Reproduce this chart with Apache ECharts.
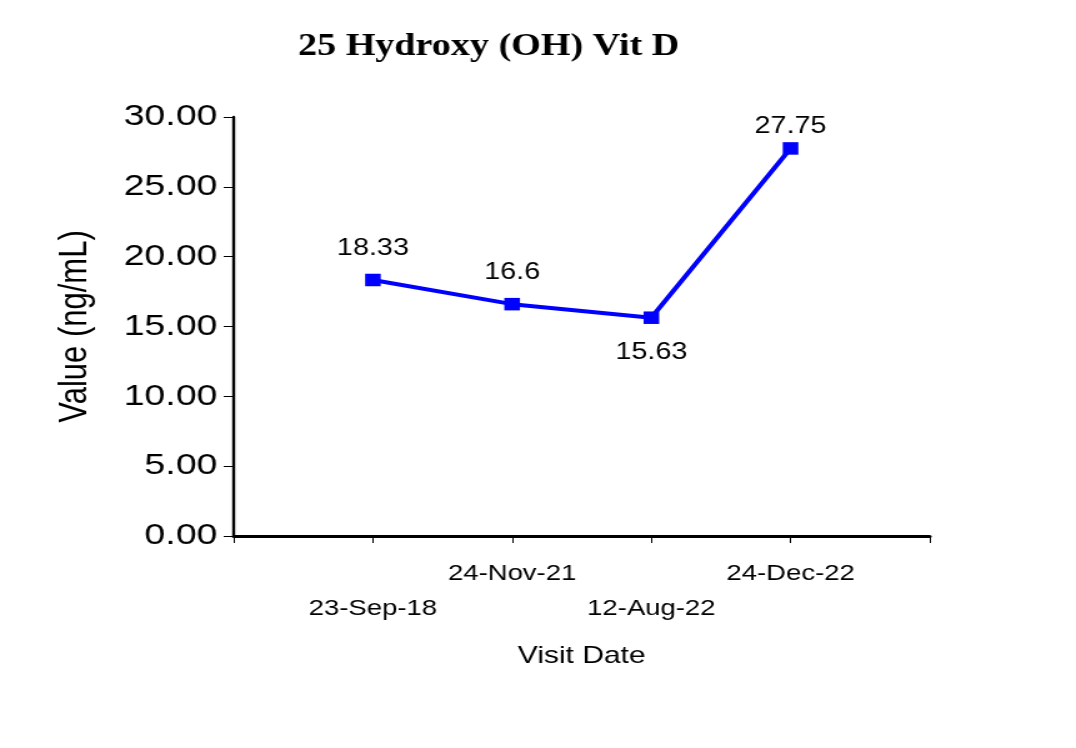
<!DOCTYPE html>
<html>
<head>
<meta charset="utf-8">
<script src="https://cdn.jsdelivr.net/npm/echarts@6/dist/echarts.min.js"></script>
<style>
  html, body { margin: 0; padding: 0; background: #fff; overflow: hidden; }
  /* the reference is stretched sideways, so draw narrower and widen */
  #chart { width: 861px; height: 748px; transform: scaleX(1.2497); transform-origin: 0 0; }
</style>
</head>
<body>
<div id="chart"></div>
<script>
// padded with blank slots so the dates sit between the axis ends
const visitDates = ['', '23-Sep-18', '24-Nov-21', '12-Aug-22', '24-Dec-22', ''];
const vitDValues = [null, 18.33, 16.6, 15.63, 27.75, null];
const valueLabels = ['', '18.33', '16.6', '15.63', '27.75', ''];
const labelBelow = [false, false, false, true, false, false];

const chart = echarts.init(document.getElementById('chart'));

const seriesData = vitDValues.map((v, i) => {
  if (v == null) return null;
  const item = { value: v, label: { formatter: valueLabels[i] } };
  if (labelBelow[i]) { item.label.position = 'bottom'; item.label.distance = 17; }
  if (v > 25) item.label.distance = 4;
  return item;
});

chart.setOption({
  animation: false,
  title: {
    text: '25 Hydroxy (OH) Vit D',
    left: 386,
    top: 27,
    textAlign: 'center',
    textStyle: { fontFamily: 'Liberation Serif', fontWeight: 'bold', fontSize: 30.5, color: '#000' }
  },
  grid: { left: 187, right: 117, top: 117, bottom: 212 },
  xAxis: {
    type: 'category',
    data: visitDates,
    boundaryGap: false,
    name: 'Visit Date',
    nameLocation: 'middle',
    nameGap: 108,
    nameTextStyle: { fontFamily: 'Liberation Sans', fontSize: 24, color: '#000' },
    axisLine: { lineStyle: { color: '#000', width: 3 } },
    axisTick: { length: 7, lineStyle: { color: '#000', width: 1 }, alignWithLabel: true },
    axisLabel: {
      interval: 0,
      margin: 20,
      fontFamily: 'Liberation Sans',
      fontSize: 22,
      color: '#000',
      lineHeight: 35,
      formatter: (v, i) => (i % 2 === 1 ? '\n' + v : v)
    },
    splitLine: { show: false }
  },
  yAxis: {
    type: 'value',
    min: 0,
    max: 30,
    interval: 5,
    name: 'Value (ng/mL)',
    nameLocation: 'middle',
    nameGap: 111,
    nameTextStyle: { fontFamily: 'Liberation Sans', fontSize: 31, color: '#000' },
    axisLine: { show: true, lineStyle: { color: '#000', width: 2.4 } },
    axisTick: { show: true, length: 8, lineStyle: { color: '#000', width: 1 } },
    axisLabel: {
      margin: 13,
      fontFamily: 'Liberation Sans',
      fontSize: 30,
      color: '#000',
      formatter: v => v.toFixed(2)
    },
    splitLine: { show: false }
  },
  series: [{
    type: 'line',
    data: seriesData,
    connectNulls: false,
    symbol: 'rect',
    symbolSize: 12.5,
    lineStyle: { color: '#0000ff', width: 4 },
    itemStyle: { color: '#0000ff' },
    label: {
      show: true,
      position: 'top',
      distance: 14,
      fontFamily: 'Liberation Sans',
      fontSize: 23,
      color: '#000'
    }
  }]
});
</script>
</body>
</html>
